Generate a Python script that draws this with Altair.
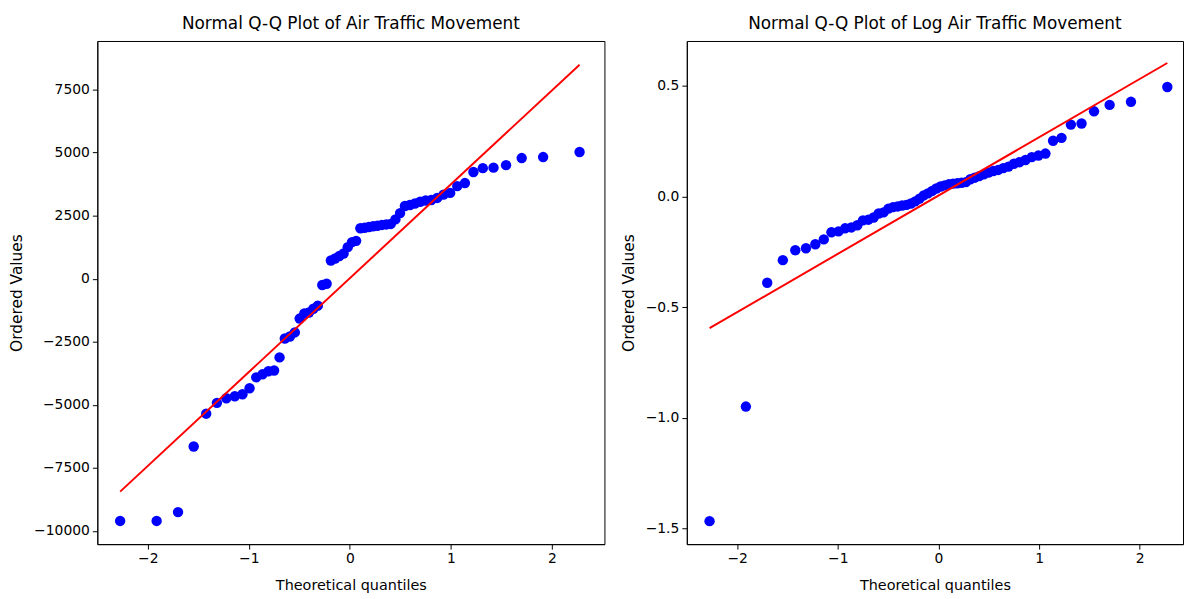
import altair as alt
import pandas as pd

# Theoretical normal quantiles (Filliben positions, n = 60), as plotted
theo_q = [-2.274, -1.913, -1.701, -1.546, -1.422, -1.316, -1.223, -1.139, -1.063, -0.993,
          -0.927, -0.865, -0.806, -0.750, -0.696, -0.644, -0.594, -0.545, -0.497, -0.451,
          -0.405, -0.361, -0.317, -0.273, -0.230, -0.188, -0.146, -0.104, -0.062, -0.021,
          0.021, 0.062, 0.104, 0.146, 0.188, 0.230, 0.273, 0.317, 0.361, 0.405,
          0.451, 0.497, 0.545, 0.594, 0.644, 0.696, 0.750, 0.806, 0.865, 0.927,
          0.993, 1.063, 1.139, 1.223, 1.316, 1.422, 1.546, 1.701, 1.913, 2.274]

# Ordered values: Air Traffic Movement
atm_values = [-9600, -9600, -9250, -6650, -5350, -4920, -4740, -4660, -4580, -4340,
              -3910, -3790, -3670, -3640, -3120, -2370, -2290, -2130, -1580, -1380,
              -1340, -1190, -1070, -250, -200, 720, 800, 900, 1000, 1250,
              1450, 1500, 2000, 2020, 2050, 2080, 2100, 2130, 2150, 2170,
              2350, 2600, 2880, 2920, 2980, 3050, 3100, 3120, 3200, 3330,
              3400, 3670, 3790, 4230, 4380, 4400, 4500, 4780, 4820, 5020]

# Ordered values: Log Air Traffic Movement
log_atm_values = [-1.468, -0.950, -0.390, -0.288, -0.243, -0.234, -0.216, -0.194, -0.162, -0.158,
                  -0.144, -0.140, -0.130, -0.108, -0.105, -0.095, -0.077, -0.072, -0.055, -0.048,
                  -0.045, -0.041, -0.038, -0.032, -0.022, -0.010, 0.005, 0.014, 0.025, 0.036,
                  0.045, 0.050, 0.055, 0.058, 0.060, 0.062, 0.065, 0.078, 0.085, 0.092,
                  0.100, 0.108, 0.115, 0.120, 0.128, 0.135, 0.148, 0.155, 0.165, 0.178,
                  0.185, 0.194, 0.252, 0.265, 0.325, 0.330, 0.385, 0.414, 0.428, 0.495]

# Least-squares fit lines (slope, intercept)
atm_fit = (3720, 20)
log_atm_fit = (0.2636, 0.004)

x_ticks = [-2, -1, 0, 1, 2]
atm_y_ticks = [-10000, -7500, -5000, -2500, 0, 2500, 5000, 7500]
log_y_ticks = [-1.5, -1.0, -0.5, 0.0, 0.5]

FONT = "DejaVu Sans"


def panel(values, fit, title, xdom, ydom, yticks, yfmt, width, height):
    slope, intercept = fit
    pts = pd.DataFrame({"q": theo_q, "v": values})
    ends = [theo_q[0], theo_q[-1]]
    line = pd.DataFrame({"q": ends, "v": [intercept + slope * e for e in ends]})
    x = alt.X("q:Q", scale=alt.Scale(domain=xdom, nice=False, zero=False),
              axis=alt.Axis(values=x_ticks, format="d", title="Theoretical quantiles",
                            titleFontSize=14.5, titlePadding=13))
    y = alt.Y("v:Q", scale=alt.Scale(domain=ydom, nice=False, zero=False),
              axis=alt.Axis(values=yticks, format=yfmt, title="Ordered Values",
                            titleFontSize=15.5, titlePadding=9))
    p = alt.Chart(pts).mark_point(filled=True, opacity=1, color="#0000ff", size=110).encode(x=x, y=y)
    l = alt.Chart(line).mark_line(color="#ff0000", strokeWidth=2).encode(x="q:Q", y="v:Q")
    return alt.layer(p, l).properties(
        width=width, height=height,
        title=alt.TitleParams(title, fontSize=17, font=FONT, fontWeight="normal",
                              color="black", anchor="middle", offset=8))


left = panel(atm_values, atm_fit, "Normal Q-Q Plot of Air Traffic Movement",
             [-2.5, 2.52], [-10520, 9420], atm_y_ticks, "d", 511, 507)
right = panel(log_atm_values, log_atm_fit, "Normal Q-Q Plot of Log Air Traffic Movement",
              [-2.5, 2.43], [-1.572, 0.703], log_y_ticks, ".1f", 500, 507)

chart = alt.hconcat(left, right, spacing=15).properties(
    padding={"left": 1, "top": 4, "right": 0, "bottom": 0}
).configure_view(
    stroke="black", strokeWidth=1
).configure_axis(
    grid=False, domainColor="black", tickColor="black", tickSize=5,
    labelFont=FONT, labelFontSize=14, labelColor="black", labelPadding=3,
    titleFont=FONT, titleFontWeight="normal", titleColor="black"
)

chart.save("out.html", embed_options={"renderer": "svg", "actions": False})
